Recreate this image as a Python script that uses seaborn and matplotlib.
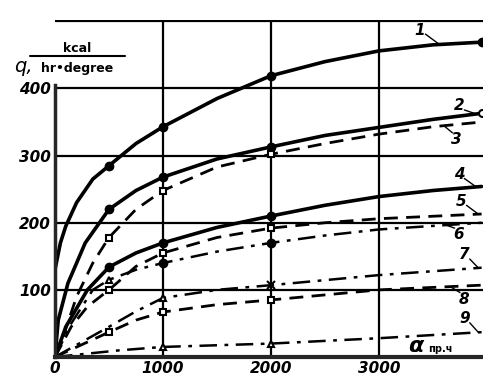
import matplotlib
matplotlib.use("Agg")
import matplotlib.pyplot as plt
import seaborn as sns

# heat transfer curves
x1 = [0, 50, 100, 200, 350, 500, 750, 1000, 1500, 2000, 2500, 3000, 3500, 3950]
q1 = [130, 170, 195, 230, 265, 285, 318, 343, 385, 419, 440, 456, 465, 469]

x2 = [0, 30, 120, 280, 500, 750, 1000, 1500, 2000, 2500, 3000, 3500, 3950]
q2 = [0, 55, 110, 170, 220, 248, 268, 295, 313, 330, 342, 354, 363]

x3 = [0, 75, 200, 350, 500, 750, 1000, 1500, 2000, 2500, 3000, 3500, 3950]
q3 = [0, 30, 90, 140, 178, 220, 248, 283, 302, 318, 332, 343, 350]

x4 = [0, 100, 300, 500, 750, 1000, 1500, 2000, 2500, 3000, 3500, 3950]
q4 = [0, 45, 100, 134, 155, 170, 193, 210, 226, 239, 248, 254]

x5 = [0, 150, 300, 500, 750, 1000, 1500, 2000, 2500, 3000, 3950]
q5 = [0, 45, 75, 100, 135, 155, 178, 192, 200, 206, 213]

x6 = [0, 150, 350, 500, 750, 1000, 1500, 2000, 2500, 3000, 3950]
q6 = [0, 50, 100, 115, 130, 140, 157, 170, 181, 190, 200]

x7 = [0, 500, 750, 1000, 1500, 2000, 3000, 3950]
q7 = [0, 45, 68, 88, 100, 107, 122, 133]

x8 = [0, 500, 750, 1000, 1500, 2000, 3000, 3950]
q8 = [0, 37, 55, 67, 78, 85, 100, 107]

x9 = [0, 300, 600, 1000, 2000, 3000, 3950]
q9 = [0, 5, 10, 15, 20, 28, 37]

curve_names = ["1", "2", "3", "4", "5", "6", "7", "8", "9"]

# (x, q, linestyle, linewidth, [(marker, filled, index into arrays)])
curves = [
    (x1, q1, "-", 2.6, [("o", True, 5), ("o", True, 7), ("o", True, 9), ("o", True, 13)]),
    (x2, q2, "-", 2.6, [("o", True, 4), ("o", True, 6), ("o", True, 8), ("o", False, 12)]),
    (x3, q3, (0, (5, 3)), 2.0, [("s", False, 4), ("s", False, 6), ("s", False, 8)]),
    (x4, q4, "-", 2.6, [("o", True, 3), ("o", True, 5), ("o", True, 7)]),
    (x5, q5, (0, (5, 3)), 2.0, [("s", False, 3), ("s", False, 5), ("s", False, 7)]),
    (x6, q6, (0, (7, 3, 1.5, 3)), 1.8, [("^", False, 3), ("o", True, 5), ("o", True, 7)]),
    (x7, q7, (0, (7, 3, 1.5, 3)), 1.8, [("^", False, 3), ("x", True, 5)]),
    (x8, q8, (0, (5, 3)), 2.0, [("s", False, 1), ("s", False, 3), ("s", False, 5)]),
    (x9, q9, (0, (7, 3, 1.5, 3)), 1.8, [("^", False, 3), ("^", False, 4)]),
]

# label position (x, q) for the small curve numbers, and the curve x their leader hits
label_pos = [(3380, 487), (3740, 374), (3720, 324), (3740, 272), (3760, 232),
             (3740, 182), (3790, 152), (3790, 86), (3790, 57)]
leader_x = [3560, 3900, 3600, 3900, 3920, 3620, 3920, 3660, 3920]

sns.set_style("white")
plt.rcParams["font.family"] = ["DejaVu Sans"]
plt.rcParams["text.color"] = "black"
plt.rcParams["xtick.color"] = "black"
plt.rcParams["ytick.color"] = "black"

fig = plt.figure(figsize=(4.83, 3.77), dpi=100)
ax = fig.add_axes([55 / 483, 20 / 377, 1 - 55 / 483, 337 / 377])

for (xs, qs, ls, lw, marks) in curves:
    sns.lineplot(x=xs, y=qs, ax=ax, color="black", linestyle=ls, linewidth=lw,
                 estimator=None, sort=False)
    for m, filled, i in marks:
        if m == "x":
            ax.plot(xs[i], qs[i], marker="x", color="black", markersize=6, mew=1.5)
        elif filled:
            ax.plot(xs[i], qs[i], marker=m, color="black", markersize=6)
        else:
            ax.plot(xs[i], qs[i], marker=m, markerfacecolor="white",
                    markeredgecolor="black", markersize=5, mew=1.5)

for name, (lx, lq), hx, (xs, qs, *_rest) in zip(curve_names, label_pos, leader_x, curves):
    # q on the curve at the leader point, from the curve's own arrays
    j = max(k for k in range(len(xs)) if xs[k] <= hx)
    if j == len(xs) - 1:
        hq = qs[j]
    else:
        t = (hx - xs[j]) / (xs[j + 1] - xs[j])
        hq = qs[j] + t * (qs[j + 1] - qs[j])
    ax.text(lx, lq, name, fontsize=11, fontstyle="italic", fontweight="bold",
            ha="center", va="center")
    sx = lx + 50 if hx > lx else lx - 40
    sq = lq + (10 if hq > lq else -6)
    ax.plot([sx, hx], [sq, hq], color="black", lw=1.0)

ax.set_xlim(0, 3963)
ax.set_ylim(0, 502)
ax.set_xticks([0, 1000, 2000, 3000])
ax.set_yticks([100, 200, 300, 400])
ax.set_xticklabels(["0", "1000", "2000", "3000"], fontsize=11,
                   fontstyle="italic", fontweight="bold")
ax.set_yticklabels(["100", "200", "300", "400"], fontsize=11,
                   fontstyle="italic", fontweight="bold")
ax.tick_params(length=0, pad=3)

for v in [100, 200, 300, 400, 500]:
    ax.axhline(v, color="black", lw=1.6, zorder=0)
for v in [1000, 2000, 3000]:
    ax.axvline(v, color="black", lw=1.6, zorder=0)

ax.spines["left"].set_linewidth(2.5)
ax.spines["left"].set_bounds(0, 405)
ax.spines["bottom"].set_linewidth(3)
ax.spines["top"].set_visible(False)
ax.spines["right"].set_visible(False)

# axis titles
fig.text(408 / 483, 1 - 352 / 377, "α", fontsize=16, fontweight="bold",
         fontstyle="italic", ha="left", va="baseline")
fig.text(428 / 483, 1 - 352 / 377, "пр.ч", fontsize=7, fontweight="bold",
         ha="left", va="baseline")
fig.text(14 / 483, 1 - 72 / 377, "q,", fontsize=14, fontstyle="italic",
         ha="left", va="baseline")
fig.text(77 / 483, 1 - 52 / 377, "kcal", fontsize=9, fontweight="bold",
         ha="center", va="baseline")
fig.add_artist(plt.Line2D([30 / 483, 125 / 483], [1 - 56 / 377, 1 - 56 / 377],
                          color="black", lw=1.5))
fig.text(77 / 483, 1 - 72 / 377, "hr•degree", fontsize=9, fontweight="bold",
         ha="center", va="baseline")

fig.savefig("out.png", dpi=100)
